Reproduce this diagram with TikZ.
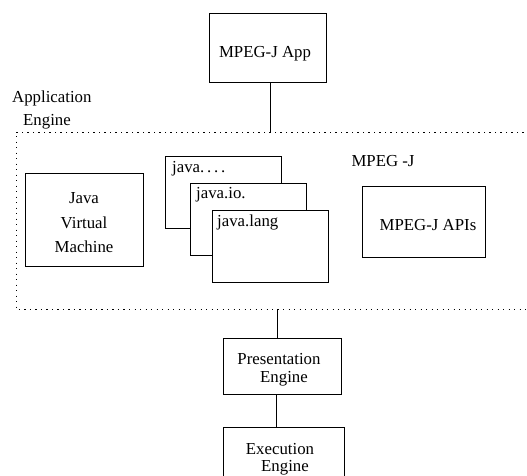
\documentclass[tikz,border=0pt]{standalone}
\usepackage{fontspec}
\setmainfont{Liberation Serif}
\usetikzlibrary{calc}
\begin{document}
\begin{tikzpicture}[x=1pt,y=-1pt,
  lbl/.style={font=\fontsize{16.8}{20}\selectfont, inner sep=0pt, anchor=base},
  lblw/.style={lbl, anchor=base west},
  frame/.style={draw, line width=0.9pt, fill=white, inner sep=0pt},
  pkgbox/.style={frame, minimum width=116pt, minimum height=72pt},
  link/.style={line width=0.9pt},
  enginearea/.style={line width=1pt, dash pattern=on 1.3pt off 4.2pt}]
\useasboundingbox (0,0) rectangle (527,475);
\clip (0,0) rectangle (527,475);
\fill[white] (0,0) rectangle (527,475);

% application engine area (open on the right)
\draw[enginearea] (540,132) -- (16,132) -- (16,309) -- (540,309);
\node[lblw] (applbl) at (12,102) {Application};
\node[lblw] (englbl) at (23,125) {Engine};
\node[lbl] (mpegj) at (383,166) {MPEG -J};

% application on top
\node[frame, minimum width=117pt, minimum height=69pt] (app) at (267.5,47.5) {};
\node[lbl] (apptxt) at (265,57) {MPEG-J App};

% java virtual machine
\node[frame, minimum width=118pt, minimum height=93pt] (jvm) at (84,219.5) {};
\node[lbl] (jvmA) at (84,203.5) {Java};
\node[lbl] (jvmB) at (84,228) {Virtual};
\node[lbl] (jvmC) at (84,252.5) {Machine};

% stacked java packages
\node[pkgbox] (jall) at (223,192) {};
\node[lblw] (jalltxt) at (172,172.5) {java.\,.\,.\,.};
\node[pkgbox] (jio) at (248,219) {};
\node[lblw] (jiotxt) at (196,198) {java.io.};
\node[pkgbox] (jlang) at (270,246.5) {};
\node[lblw] (jlangtxt) at (217,226) {java.lang};

% MPEG-J APIs
\node[frame, minimum width=123pt, minimum height=71pt] (apis) at (423.5,221.5) {};
\node[lbl] (apistxt) at (428,230) {MPEG-J APIs};

% engines below
\node[frame, minimum width=118pt, minimum height=56pt] (pres) at (282,366) {};
\node[lbl] (presA) at (279,364) {Presentation};
\node[lbl] (presB) at (284,382) {Engine};
\node[frame, minimum width=121pt, minimum height=62pt] (exec) at (283.5,458) {};
\node[lbl] (execA) at (280,454) {Execution};
\node[lbl] (execB) at (285,471) {Engine};

% connectors
\coordinate (topedge) at (270,132);
\coordinate (botedge) at (277,309);
\coordinate (pe) at (276,0);
\draw[link] (app.south -| topedge) -- (topedge);
\draw[link] (botedge) -- (pres.north -| botedge);
\draw[link] (pres.south -| pe) -- (exec.north -| pe);
\end{tikzpicture}
\end{document}
